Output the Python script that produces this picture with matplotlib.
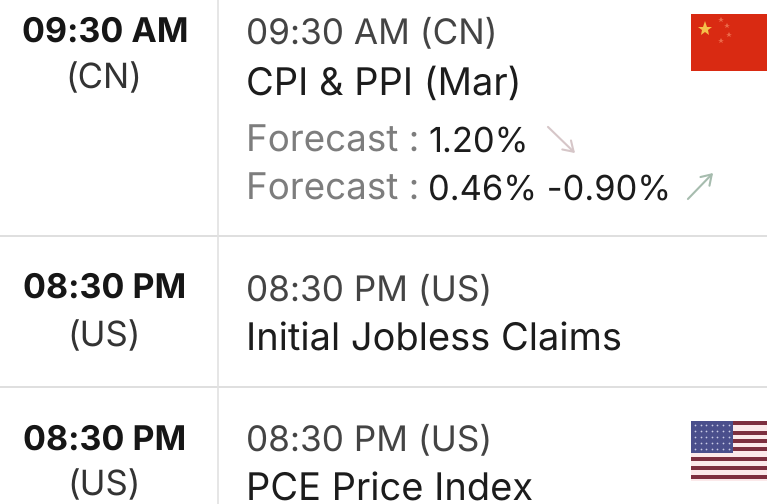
import matplotlib
matplotlib.use('Agg')
import matplotlib.pyplot as plt
from matplotlib.patches import Rectangle

plt.rcParams['font.family'] = ['Inter', 'DejaVu Sans']
plt.rcParams['text.hinting'] = 'none'
plt.rcParams['text.hinting_factor'] = 1

# table content
times = ['09:30 AM', '08:30 PM', '08:30 PM']
zones = ['(CN)', '(US)', '(US)']
headers = ['09:30 AM (CN)', '08:30 PM (US)', '08:30 PM (US)']
events = ['CPI & PPI (Mar)', 'Initial Jobless Claims', 'PCE Price Index']
forecast_label = 'Forecast :'
forecast_values = ['1.20%', '0.46% -0.90%']

# pixel baselines of each row
time_y = [42, 298, 450]
zone_y = [88, 346, 495]
header_y = [43, 300, 450]
event_y = [95, 351, 501]
forecast_y = [152, 200]
rule_y = [236, 387]

fig = plt.figure(figsize=(7.67, 5.04), dpi=100)
ax = fig.add_axes([0, 0, 1, 1])
ax.set_xlim(0, 767)
ax.set_ylim(504, 0)
ax.axis('off')

for y in rule_y:
	ax.plot([0, 767], [y, y], color='#d9d9d9', lw=1.2)
ax.plot([218, 218], [0, 504], color='#e2e2e2', lw=1.2)

for i in range(3):
	ax.text(105, time_y[i], times[i], fontsize=24.5, fontweight='bold', color='#161616', ha='center', va='baseline')
	ax.text(104, zone_y[i], zones[i], fontsize=25, color='#333333', ha='center', va='baseline')
	ax.text(246, header_y[i], headers[i], fontsize=25.3, color='#444444', va='baseline')
	ax.text(246, event_y[i], events[i], fontsize=27.4, color='#1c1c1c', va='baseline')

for i in range(2):
	ax.text(246, forecast_y[i], forecast_label, fontsize=26.5, color='#7d7d7d', va='baseline')
	ax.text(428, forecast_y[i], forecast_values[i], fontsize=24.8, color='#1c1c1c', va='baseline')

# arrows
ax.annotate('', xy=(577, 155), xytext=(546, 125), arrowprops=dict(arrowstyle='->,head_length=0.7,head_width=0.45', color='#d6c6c8', lw=1.5))
ax.annotate('', xy=(715, 171), xytext=(686, 201), arrowprops=dict(arrowstyle='->,head_length=0.7,head_width=0.45', color='#a6bcae', lw=1.5))

# china flag
ax.add_patch(Rectangle((691, 14), 76, 57, color='#d92a12', lw=0))
ax.plot([705], [29], marker='*', ms=11, color='#f5c04a', mew=0)
ax.plot([721, 727, 729, 721], [20, 26, 35, 41], ls='', marker='*', ms=4, color='#ec6a4a', mew=0)

# usa flag
ax.add_patch(Rectangle((691, 421), 76, 60, color='#fbe9ea', lw=0))
for y in [423, 433, 441, 449, 459, 468, 477]:
	ax.add_patch(Rectangle((691, y - 2), 76, 3.5, color='#7d2f3f', lw=0))
ax.add_patch(Rectangle((691, 421), 42, 32, color='#4a4f8c', lw=0))
for row in range(5):
	for col in range(7):
		ax.plot(695 + col * 5.6, 425 + row * 6, marker='.', ms=2.5, color='#c9cbe6', mew=0)

fig.savefig('out.png', dpi=100)
